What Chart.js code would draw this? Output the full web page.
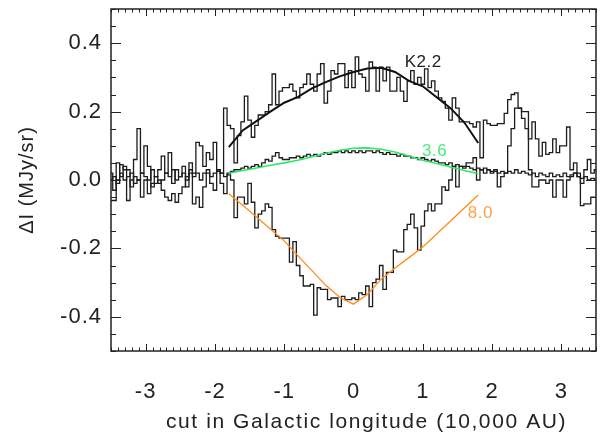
<!DOCTYPE html>
<html>
<head>
<meta charset="utf-8">
<script src="https://cdn.jsdelivr.net/npm/chart.js@4/dist/chart.umd.min.js"></script>
<style>
  body { margin: 0; background: #fff; }
  #wrap { width: 614px; height: 435px; }
</style>
</head>
<body>
<div id="wrap"><canvas id="cut"></canvas></div>
<script>
// histogram bins: 0.05 wide, centred from -3.5 to 3.5
const binStart = -3.5;
const binWidth = 0.05;

// observed profiles (MJy/sr)
const cutK22 = [0.02, -0.03, 0.05, 0.01, 0.04, 0.03, -0.02, 0.06, 0.15, 0.02,
  0.10, 0.04, -0.02, 0.01, 0.03, 0.07, 0.02, 0.08, -0.01, 0.03,
  0.01, 0.04, -0.02, 0.05, 0.02, 0.11, 0.10, 0.04, 0.08, 0.06,
  0.11, 0.03, 0.02, 0.21, 0.16, 0.15, 0.05, 0.13, 0.17, 0.245,
  0.175, 0.125, 0.16, 0.19, 0.19, 0.20, 0.22, 0.31, 0.22, 0.26,
  0.27, 0.27, 0.28, 0.26, 0.24, 0.27, 0.28, 0.31, 0.28, 0.26,
  0.31, 0.34, 0.225, 0.26, 0.32, 0.31, 0.34, 0.34, 0.27, 0.32,
  0.27, 0.36, 0.31, 0.30, 0.26, 0.345, 0.33, 0.26, 0.33, 0.29,
  0.33, 0.26, 0.26, 0.30, 0.26, 0.23, 0.29, 0.32, 0.28, 0.30,
  0.28, 0.325, 0.27, 0.29, 0.26, 0.24, 0.23, 0.21, 0.175, 0.24,
  0.21, 0.17, 0.17, 0.17, 0.165, 0.155, 0.17, 0.065, 0.175, 0.165,
  0.16, 0.16, 0.165, 0.165, 0.195, 0.235, 0.25, 0.255, 0.21, 0.18,
  0.15, 0.12, 0.17, 0.12, 0.07, 0.11, 0.075, 0.08, 0.12, 0.08,
  0.10, 0.10, 0.155, 0.03, 0.05, 0.02, -0.01, 0.03, 0.06, 0.02, 0.03];

const cut36 = [0.0, 0.01, -0.01, 0.02, 0.0, 0.01, 0.02, -0.01, 0.0, 0.02,
  0.01, 0.0, 0.03, 0.01, -0.01, 0.0, 0.02, 0.01, 0.03, 0.0,
  0.01, 0.02, 0.0, 0.03, 0.01, 0.02, 0.0, 0.02, 0.03, 0.01,
  0.02, 0.03, 0.02, 0.01, 0.02, 0.025, 0.03, 0.03, 0.035, 0.04,
  0.035, 0.04, 0.045, 0.04, 0.05, 0.06, 0.055, 0.07, 0.08, 0.065,
  0.06, 0.06, 0.065, 0.065, 0.07, 0.065, 0.07, 0.075, 0.07, 0.075,
  0.07, 0.075, 0.08, 0.075, 0.08, 0.08, 0.085, 0.08, 0.085, 0.08,
  0.085, 0.08, 0.085, 0.08, 0.085, 0.085, 0.08, 0.085, 0.08, 0.075,
  0.08, 0.075, 0.075, 0.07, 0.075, 0.07, 0.07, 0.065, 0.065, 0.06,
  0.065, 0.06, 0.055, 0.06, 0.055, 0.05, 0.05, 0.045, 0.05, 0.04,
  0.045, 0.04, 0.035, 0.04, 0.035, 0.03, 0.035, 0.03, 0.035, 0.03,
  0.025, 0.03, 0.02, 0.025, 0.02, 0.025, 0.02, 0.03, 0.02, 0.025,
  0.02, 0.015, 0.02, 0.01, 0.02, 0.015, 0.01, 0.02, 0.01, 0.015,
  0.01, 0.02, 0.01, 0.015, 0.02, 0.01, 0.005, 0.01, 0.0, 0.005, 0.0];

const cut80 = [-0.06, -0.06, 0.0, 0.045, 0.03, -0.06, 0.0, 0.01, 0.0, -0.05,
  0.0, -0.04, -0.01, -0.01, 0.0, -0.03, -0.05, -0.06, -0.04, -0.065,
  -0.04, -0.02, 0.01, 0.02, -0.07, -0.05, -0.08, -0.02, 0.02, -0.01,
  -0.03, 0.025, -0.01, -0.04, 0.015, 0.0, -0.11, -0.05, -0.05, -0.07,
  -0.01, -0.065, -0.14, -0.10, -0.09, -0.07, -0.08, -0.145, -0.165, -0.17,
  -0.17, -0.17, -0.24, -0.18, -0.25, -0.28, -0.31, -0.31, -0.305, -0.395,
  -0.315, -0.32, -0.32, -0.35, -0.345, -0.345, -0.37, -0.34, -0.35, -0.35,
  -0.345, -0.35, -0.33, -0.335, -0.31, -0.37, -0.30, -0.29, -0.25, -0.32,
  -0.27, -0.27, -0.205, -0.21, -0.21, -0.145, -0.13, -0.10, -0.14, -0.205,
  -0.135, -0.09, -0.07, -0.09, -0.07, -0.07, -0.02, -0.03, 0.0, 0.04,
  -0.02, 0.04, 0.04, 0.05, 0.05, 0.065, 0.0, 0.03, 0.02, 0.03,
  0.02, 0.025, -0.02, 0.01, 0.02, 0.10, 0.15, 0.21, 0.21, 0.20,
  0.20, 0.03, -0.02, -0.02, 0.0, 0.0, -0.01, 0.0, -0.05, 0.0,
  0.0, -0.05, 0.0, 0.01, 0.02, 0.01, -0.075, -0.07, -0.07, -0.05, -0.05];

// model curves
const modelX = [-1.8, -1.6, -1.4, -1.2, -1.0, -0.8, -0.6, -0.4, -0.2, 0.0,
  0.2, 0.4, 0.6, 0.8, 1.0, 1.2, 1.4, 1.6, 1.8];
const modelK22 = [0.096, 0.145, 0.172, 0.20, 0.226, 0.243, 0.268, 0.286, 0.303, 0.316,
  0.326, 0.328, 0.316, 0.29, 0.274, 0.242, 0.21, 0.168, 0.108];
const model36 = [0.02, 0.028, 0.035, 0.043, 0.05, 0.058, 0.068, 0.078, 0.087, 0.093,
  0.094, 0.09, 0.082, 0.07, 0.058, 0.048, 0.038, 0.028, 0.018];
const model80 = [-0.04, -0.074, -0.108, -0.143, -0.178, -0.222, -0.265, -0.308, -0.343, -0.363,
  -0.335, -0.29, -0.257, -0.227, -0.196, -0.158, -0.12, -0.082, -0.044];

const xTicks = [-3, -2, -1, 0, 1, 2, 3];
const yTicks = [-0.4, -0.2, 0.0, 0.2, 0.4];

const bandNames = ['K2.2', '3.6', '8.0'];
const bandColors = ['#111111', '#2ee866', '#ff8c1a'];
const labelColors = ['#222222', '#4ce882', '#ffa04a'];
const labelAt = [[0.74, 0.345], [0.99, 0.085], [1.65, -0.097]];

const xTitle = 'cut in Galactic longitude (10,000 AU)';

const FONT = '"Liberation Sans", Arial, Helvetica, sans-serif';
Chart.defaults.font.family = FONT;
Chart.defaults.color = '#222';

function binned(vals) {
  return vals.map((v, i) => ({ x: binStart + i * binWidth, y: v }));
}
function curve(vals) {
  return vals.map((v, i) => ({ x: modelX[i], y: v }));
}

function histSet(vals) {
  return {
    data: binned(vals),
    borderColor: '#1c1c1c',
    borderWidth: 1.3,
    pointRadius: 0,
    stepped: 'middle',
    fill: false,
    order: 2
  };
}
function modelSet(vals, k, w) {
  return {
    data: curve(vals),
    borderColor: bandColors[k],
    borderWidth: w,
    pointRadius: 0,
    tension: 0,
    fill: false,
    order: 1
  };
}

// the IDL-style lettering is wider than Arial, so space it out a little
const spacing = {
  id: 'spacing',
  beforeDraw(chart) { chart.ctx.letterSpacing = '1px'; }
};

// frame, inward ticks, band labels and x title
const frameTicks = {
  id: 'frameTicks',
  afterDatasetsDraw(chart) {
    const { ctx, chartArea: a, scales: { x, y } } = chart;
    ctx.save();
    ctx.strokeStyle = '#222';
    ctx.lineWidth = 1.5;
    ctx.strokeRect(a.left, a.top, a.right - a.left, a.bottom - a.top);
    ctx.lineWidth = 1;
    ctx.beginPath();
    for (let k = -35; k <= 35; k++) {
      const px = Math.round(x.getPixelForValue(k / 10)) + 0.5;
      const len = k % 10 === 0 ? 7 : 3.5;
      ctx.moveTo(px, a.bottom); ctx.lineTo(px, a.bottom - len);
      ctx.moveTo(px, a.top); ctx.lineTo(px, a.top + len);
    }
    for (let k = -10; k <= 10; k++) {
      const py = Math.round(y.getPixelForValue(k * 0.05)) + 0.5;
      const len = k % 4 === 0 ? 10 : 5;
      ctx.moveTo(a.left, py); ctx.lineTo(a.left + len, py);
      ctx.moveTo(a.right, py); ctx.lineTo(a.right - len, py);
    }
    ctx.stroke();

    ctx.letterSpacing = '0.5px';
    ctx.font = '17px ' + FONT;
    ctx.textBaseline = 'middle';
    ctx.textAlign = 'left';
    bandNames.forEach((name, k) => {
      ctx.fillStyle = labelColors[k];
      ctx.fillText(name, x.getPixelForValue(labelAt[k][0]), y.getPixelForValue(labelAt[k][1]));
    });

    ctx.letterSpacing = '1.6px';
    ctx.font = '21px ' + FONT;
    ctx.fillStyle = '#222';
    ctx.textAlign = 'center';
    ctx.fillText(xTitle, (a.left + a.right) / 2 + 13, 422);
    ctx.restore();
  }
};

new Chart(document.getElementById('cut').getContext('2d'), {
  type: 'line',
  data: {
    datasets: [
      modelSet(modelK22, 0, 2),
      modelSet(model36, 1, 1.6),
      modelSet(model80, 2, 1.3),
      histSet(cutK22),
      histSet(cut36),
      histSet(cut80)
    ]
  },
  options: {
    responsive: true,
    maintainAspectRatio: false,
    animation: false,
    layout: { padding: { top: 9, right: 18, left: 0, bottom: 0 } },
    plugins: {
      legend: { display: false },
      tooltip: { enabled: false }
    },
    scales: {
      x: {
        type: 'linear',
        min: -3.5,
        max: 3.5,
        grid: { display: false, drawTicks: false },
        border: { display: false },
        afterBuildTicks: (s) => { s.ticks = xTicks.map(v => ({ value: v })); },
        afterFit: (s) => { s.height = 84; s.paddingLeft = 0; s.paddingRight = 0; },
        ticks: {
          padding: 28,
          maxRotation: 0,
          font: { size: 22 },
          color: '#222',
          callback: (v) => String(v)
        }
      },
      y: {
        min: -0.5,
        max: 0.5,
        grid: { display: false, drawTicks: false },
        border: { display: false },
        afterBuildTicks: (s) => { s.ticks = yTicks.map(v => ({ value: v })); },
        afterFit: (s) => { s.width = 111; s.paddingTop = 0; s.paddingBottom = 0; },
        ticks: {
          padding: 9,
          font: { size: 22 },
          color: '#222',
          callback: (v) => v.toFixed(1)
        },
        title: {
          display: true,
          text: 'ΔI (MJy/sr)',
          font: { size: 20 },
          color: '#222',
          padding: { top: 15, bottom: 0 }
        }
      }
    }
  },
  plugins: [spacing, frameTicks]
});
</script>
</body>
</html>
